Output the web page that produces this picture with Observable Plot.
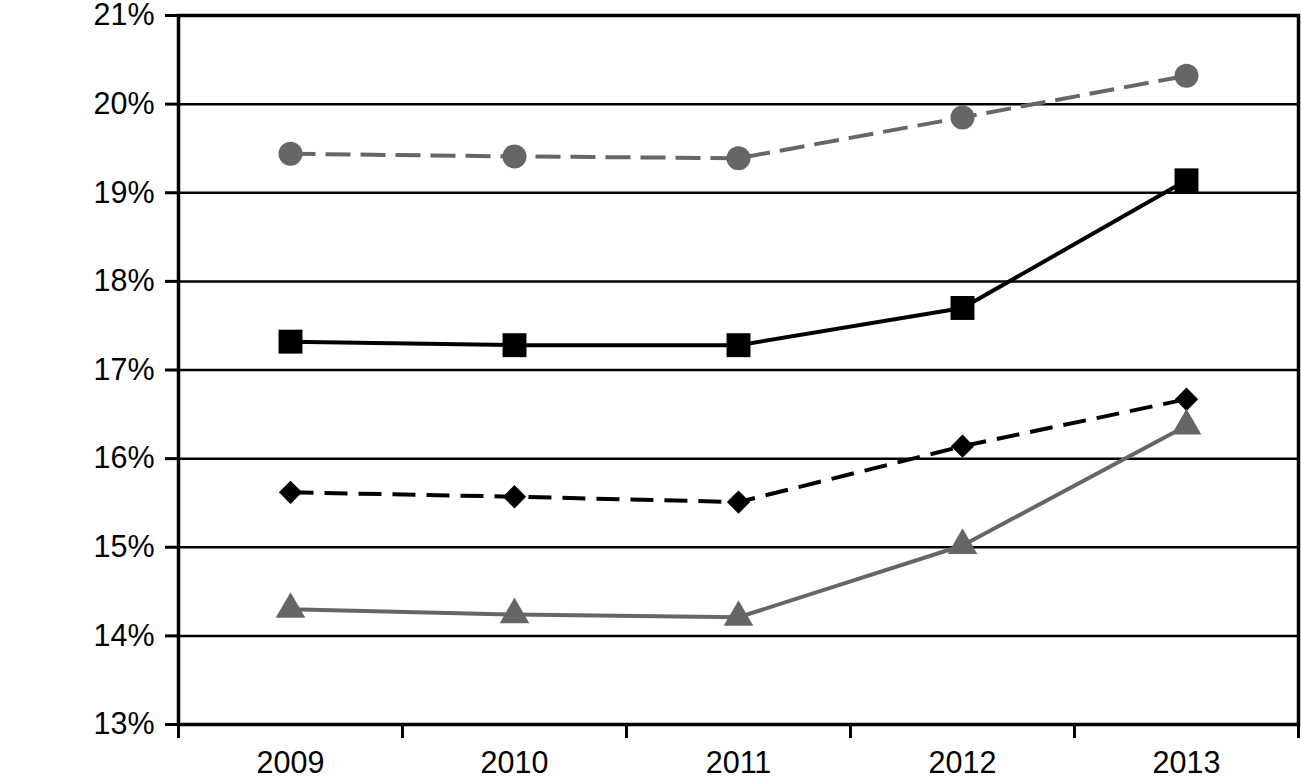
<!DOCTYPE html>
<html>
<head>
<meta charset="utf-8">
<script src="https://cdn.jsdelivr.net/npm/d3@7"></script>
<script src="https://cdn.jsdelivr.net/npm/@observablehq/plot@0.6"></script>
<style>
  html, body { margin: 0; padding: 0; background: #fff; }
  #chart svg { display: block; }
</style>
</head>
<body>
<div id="chart"></div>
<script>
const years = [2009, 2010, 2011, 2012, 2013];
const yTicks = [13, 14, 15, 16, 17, 18, 19, 20, 21];
const circleSeries = [19.44, 19.41, 19.39, 19.85, 20.32];
const squareSeries = [17.32, 17.28, 17.28, 17.70, 19.14];
const diamondSeries = [15.62, 15.57, 15.51, 16.14, 16.67];
const triangleSeries = [14.30, 14.24, 14.21, 15.02, 16.37];

const gray = "#666666";
const toRows = (vals) => years.map((y, i) => ({year: y, value: vals[i]}));
const boundaries = [...years.map(y => y - 0.5), years[years.length - 1] + 0.5];

const series = [
  {rows: toRows(circleSeries), color: gray, dash: "25,10", symbol: "circle", r: 12},
  {rows: toRows(squareSeries), color: "#000", dash: null, symbol: "square", r: 13.5},
  {rows: toRows(diamondSeries), color: "#000", dash: "23,11", symbol: "diamond2", r: 10.5},
  {rows: toRows(triangleSeries), color: gray, dash: null, symbol: "triangle", r: 11}
];

const marks = [
  Plot.gridY(yTicks, {stroke: "#000", strokeOpacity: 1, strokeWidth: 2.5}),
  Plot.axisY(yTicks, {tickSize: 13, tickPadding: 11, tickFormat: d => d + "%", fontSize: 30.5, stroke: "#000", strokeWidth: 3, label: null}),
  Plot.axisX(boundaries, {tickSize: 14, tickFormat: () => "", stroke: "#000", strokeWidth: 3, label: null}),
  Plot.axisX(years, {tickSize: 0, tickPadding: 27, tickFormat: d => String(d), fontSize: 30.5, label: null}),
  Plot.frame({stroke: "#000", strokeWidth: 3.5})
];
for (const s of series) {
  marks.push(Plot.line(s.rows, {x: "year", y: "value", stroke: s.color, strokeWidth: 4, strokeDasharray: s.dash, strokeLinecap: "butt"}));
}
for (const s of series) {
  marks.push(Plot.dot(s.rows, {x: "year", y: "value", symbol: () => s.symbol, fill: s.color, stroke: "none", r: s.r}));
}

const chart = Plot.plot({
  width: 1301,
  height: 781,
  marginLeft: 178,
  marginTop: 15,
  marginRight: 3,
  marginBottom: 57,
  style: {fontFamily: "'Liberation Sans', Arial, sans-serif", color: "#000", background: "#fff"},
  x: {type: "linear", domain: [boundaries[0], boundaries[boundaries.length - 1]]},
  y: {type: "linear", domain: [13, 21]},
  symbol: {type: "identity"},
  marks
});
document.getElementById("chart").appendChild(chart);
</script>
</body>
</html>
